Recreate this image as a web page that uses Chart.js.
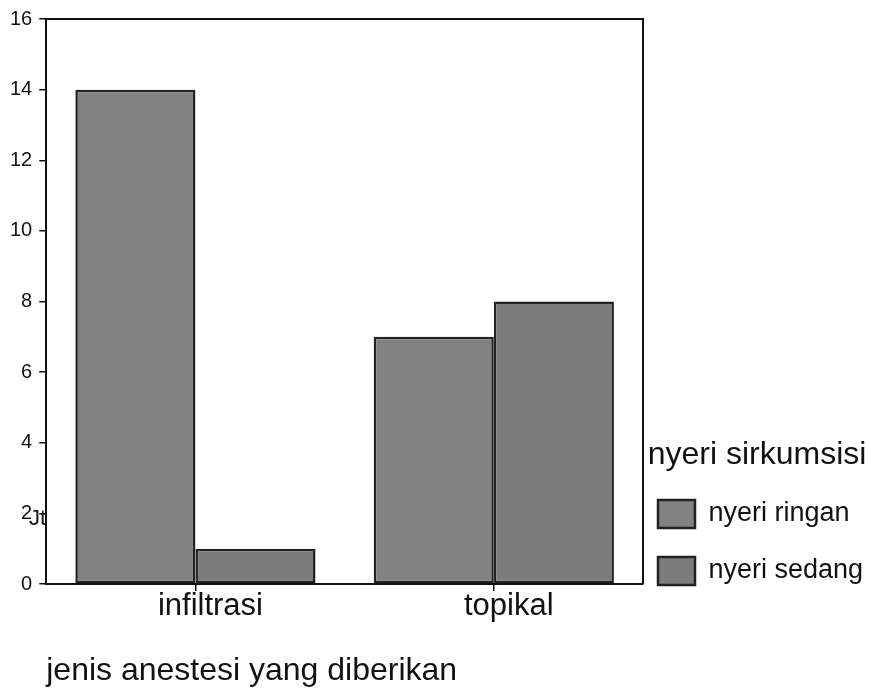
<!DOCTYPE html>
<html><head><meta charset="utf-8">
<script src="https://cdn.jsdelivr.net/npm/chart.js@4.4.1/dist/chart.umd.min.js"></script>
<style>html,body{margin:0;padding:0;background:#fff;}</style>
</head><body>
<canvas id="c" width="871" height="690"></canvas>
<script>
const categories = ['infiltrasi', 'topikal'];
const seriesNames = ['nyeri ringan', 'nyeri sedang'];
const nyeriRingan = [14, 7];
const nyeriSedang = [1, 8];
const yTickValues = [0, 2, 4, 6, 8, 10, 12, 14, 16];
const xAxisTitle = 'jenis anestesi yang diberikan';
const legendTitle = 'nyeri sirkumsisi';
const yAxisTitle = 'Jt';

const FONT = "'Liberation Sans', Arial, sans-serif";
const INK = '#111';

const framePlugin = {
  id: 'frame',
  afterDraw(chart) {
    const {ctx, chartArea: a} = chart;
    ctx.save();
    ctx.strokeStyle = INK;
    ctx.lineWidth = 2;
    ctx.beginPath();
    ctx.moveTo(a.left, a.top);
    ctx.lineTo(a.right, a.top);
    ctx.lineTo(a.right, a.bottom);
    ctx.stroke();
    // clipped y axis title remnant
    ctx.fillStyle = INK;
    ctx.font = '22px ' + FONT;
    ctx.textBaseline = 'middle';
    ctx.textAlign = 'left';
    ctx.fillText(yAxisTitle, 29, 519);
    ctx.restore();
  }
};

new Chart(document.getElementById('c'), {
  type: 'bar',
  data: {
    labels: categories,
    datasets: [
      {label: seriesNames[0], data: nyeriRingan, backgroundColor: '#828282', borderColor: '#222', borderWidth: 2.5, borderSkipped: false},
      {label: seriesNames[1], data: nyeriSedang, backgroundColor: '#7c7c7c', borderColor: '#222', borderWidth: 2.5, borderSkipped: false}
    ]
  },
  options: {
    responsive: false,
    animation: false,
    devicePixelRatio: 1,
    layout: {padding: {top: 19, left: 3, right: 0, bottom: 0}},
    datasets: {bar: {categoryPercentage: 0.805, barPercentage: 1}},
    plugins: {
      tooltip: {enabled: false},
      legend: {
        position: 'right',
        align: 'start',
        maxWidth: 228,
        title: {display: true, text: legendTitle, position: 'center', color: INK,
                font: {family: FONT, size: 32}, padding: {top: 420, bottom: 7.6}},
        labels: {
          color: INK,
          boxWidth: 37, boxHeight: 28, padding: 15,
          font: {family: FONT, size: 27, lineHeight: '42px'},
          generateLabels(chart) {
            const items = Chart.defaults.plugins.legend.labels.generateLabels(chart);
            items.forEach(it => { it.text = [it.text]; it.lineWidth = 2.5; });
            return items;
          }
        }
      }
    },
    scales: {
      x: {
        grid: {display: true, drawOnChartArea: false, drawTicks: true, tickLength: 7, offset: false, color: INK, lineWidth: 1.5},
        border: {display: true, color: INK, width: 2},
        ticks: {color: INK, font: {family: FONT, size: 31, lineHeight: 1.0}, padding: 0, labelOffset: 15, maxRotation: 0},
        title: {display: true, text: xAxisTitle, align: 'start', color: INK,
                font: {family: FONT, size: 32}, padding: {top: 29.6, bottom: 0}}
      },
      y: {
        min: 0, max: 16,
        afterBuildTicks(scale) { scale.ticks = yTickValues.map(v => ({value: v})); },
        grid: {display: true, drawOnChartArea: false, drawTicks: true, tickLength: 7, color: INK, lineWidth: 1.5},
        border: {display: true, color: INK, width: 2},
        ticks: {color: INK, font: {family: FONT, size: 20}, padding: 7}
      }
    }
  },
  plugins: [framePlugin]
});
</script>
</body></html>
